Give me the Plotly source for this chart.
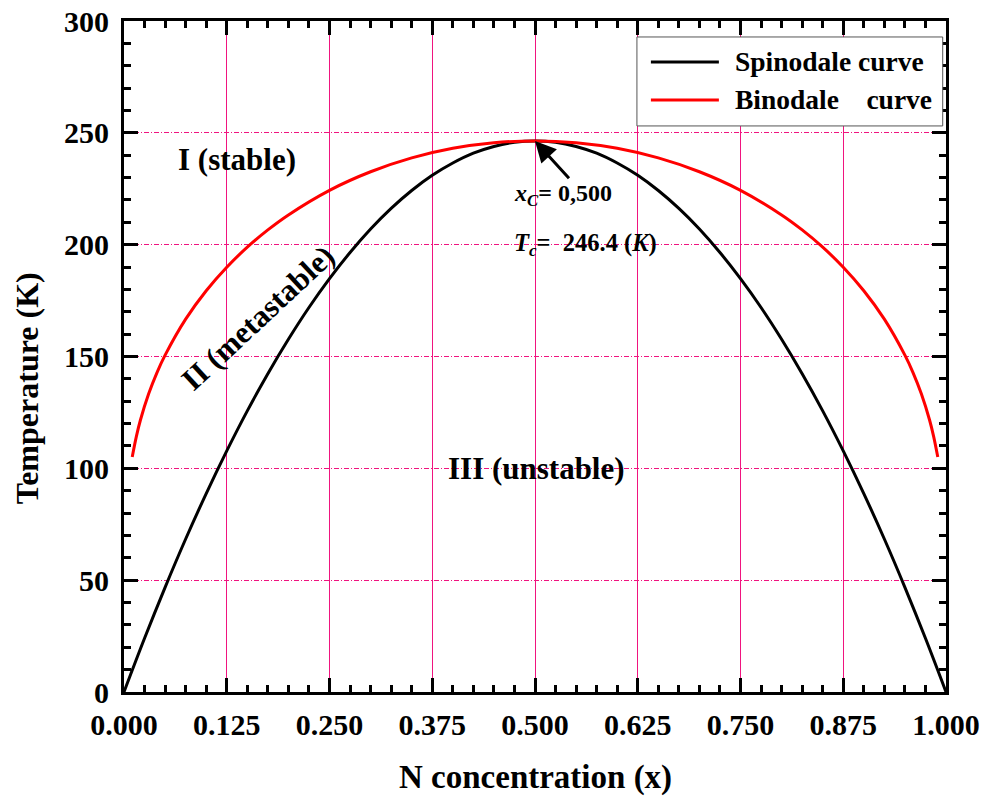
import plotly.graph_objects as go

# Spinodal curve: composition x and temperature (K)
spin_x = [0.000, 0.025, 0.050, 0.075, 0.100, 0.125, 0.150, 0.175, 0.200, 0.225,
          0.250, 0.275, 0.300, 0.325, 0.350, 0.375, 0.400, 0.425, 0.450, 0.475,
          0.500, 0.525, 0.550, 0.575, 0.600, 0.625, 0.650, 0.675, 0.700, 0.725,
          0.750, 0.775, 0.800, 0.825, 0.850, 0.875, 0.900, 0.925, 0.950, 0.975, 1.000]
spin_t = [0.0, 24.0, 46.8, 68.4, 88.7, 107.8, 125.7, 142.3, 157.7, 171.9,
          184.8, 196.5, 207.0, 216.2, 224.2, 231.0, 236.5, 240.9, 243.9, 245.8,
          246.4, 245.8, 243.9, 240.9, 236.5, 231.0, 224.2, 216.2, 207.0, 196.5,
          184.8, 171.9, 157.7, 142.3, 125.7, 107.8, 88.7, 68.4, 46.8, 24.0, 0.0]

# Binodal curve: composition x and temperature (K)
bino_x = [0.010, 0.015, 0.020, 0.030, 0.040, 0.050, 0.075, 0.100, 0.125, 0.150,
          0.175, 0.200, 0.250, 0.300, 0.350, 0.400, 0.450, 0.500, 0.550, 0.600,
          0.650, 0.700, 0.750, 0.800, 0.825, 0.850, 0.875, 0.900, 0.925, 0.950,
          0.960, 0.970, 0.980, 0.985, 0.990]
bino_t = [105.1, 114.2, 121.6, 133.3, 142.7, 150.6, 166.7, 179.4, 189.9, 198.9,
          206.6, 213.3, 224.3, 232.6, 238.8, 243.1, 245.6, 246.4, 245.6, 243.1,
          238.8, 232.6, 224.3, 213.3, 206.6, 198.9, 189.9, 179.4, 166.7, 150.6,
          142.7, 133.3, 121.6, 114.2, 105.1]

# Critical point
x_c = 0.500
t_c = 246.4

x_ticks = [0.000, 0.125, 0.250, 0.375, 0.500, 0.625, 0.750, 0.875, 1.000]
y_ticks = [0, 50, 100, 150, 200, 250, 300]

series_names = ["Spinodale curve", "Binodale\u00a0\u00a0\u00a0\u00a0curve"]
series_colors = ["#000000", "#ff0000"]

FONT = "Liberation Serif, Times New Roman, serif"
GRID = "#f0147f"


def bold(size):
    return dict(family=FONT, size=size, color="black", weight="bold")


fig = go.Figure()
fig.add_trace(go.Scatter(x=spin_x, y=spin_t, mode="lines", name=series_names[0],
                         line=dict(color=series_colors[0], width=3, shape="spline"),
                         showlegend=False))
fig.add_trace(go.Scatter(x=bino_x, y=bino_t, mode="lines", name=series_names[1],
                         line=dict(color=series_colors[1], width=3, shape="spline"),
                         showlegend=False))

# Legend box drawn by hand so the line samples are long
lg_x0, lg_x1, lg_y0, lg_y1 = 0.624, 0.996, 0.8436, 0.9762
fig.add_shape(type="rect", xref="paper", yref="paper", x0=lg_x0, x1=lg_x1, y0=lg_y0, y1=lg_y1,
              line=dict(color="#555555", width=1), fillcolor="white", layer="above")
for i, (nm, col) in enumerate(zip(series_names, series_colors)):
    yy = 0.9389 - i * 0.0566
    fig.add_shape(type="line", xref="paper", yref="paper", x0=0.641, x1=0.7237, y0=yy, y1=yy,
                  line=dict(color=col, width=3), layer="above")
    fig.add_annotation(xref="paper", yref="paper", x=0.7405, y=yy, text=nm, showarrow=False,
                       xanchor="left", yanchor="middle", font=bold(27.5))

# Region labels
fig.add_annotation(x=0.138, y=238, text="I (stable)", showarrow=False, font=bold(31))
fig.add_annotation(x=0.163, y=167.5, text="II (metastable)", showarrow=False, textangle=-43,
                   font=bold(31))
fig.add_annotation(x=0.502, y=100, text="III (unstable)", showarrow=False, font=bold(31))

# Critical point arrow and values
fig.add_annotation(x=x_c, y=t_c, ax=0.543, ay=229, axref="x", ayref="y", text="",
                   showarrow=True, arrowhead=2, arrowsize=1.4, arrowwidth=3, arrowcolor="black")
fig.add_annotation(x=0.4725, y=222.3, xanchor="left", yanchor="middle", showarrow=False,
                   text="<i>x</i><sub><i>C</i></sub>= 0,500", font=bold(24))
fig.add_annotation(x=0.4725, y=200.2, xanchor="left", yanchor="middle", showarrow=False,
                   text="<i>T</i><sub><i>c</i></sub>=\u00a0 246.4 (<i>K</i>)", font=bold(24.5))

# Axis titles
fig.add_annotation(xref="paper", yref="paper", x=0.5003, y=-0.128, text="N concentration (x)",
                   showarrow=False, xanchor="center", yanchor="middle", font=bold(33))
fig.add_annotation(xref="paper", yref="paper", x=-0.118, y=0.4527, text="Temperature (K)",
                   showarrow=False, textangle=-90, xanchor="center", yanchor="middle",
                   font=bold(32))

axis_common = dict(
    showline=True, linecolor="black", linewidth=3, mirror="allticks",
    ticks="inside", ticklen=14, tickwidth=3, tickcolor="black",
    showgrid=True, gridcolor=GRID, gridwidth=1, zeroline=False,
    tickfont=bold(30), automargin=False,
)

fig.update_xaxes(**axis_common, range=[0, 1], tickvals=x_ticks,
                 ticktext=[f"{v:.3f}" for v in x_ticks], ticklabelstandoff=4,
                 minor=dict(dtick=0.025, ticks="inside", ticklen=7, tickwidth=3,
                            tickcolor="black", showgrid=False))
fig.update_yaxes(**axis_common, range=[0, 300], tickvals=y_ticks, griddash="5px,2px,1px,2px",
                 ticklabelstandoff=6,
                 minor=dict(dtick=10, ticks="inside", ticklen=7, tickwidth=3,
                            tickcolor="black", showgrid=False))

fig.update_layout(
    width=984, height=798,
    margin=dict(l=124, r=38, t=21, b=106),
    plot_bgcolor="white", paper_bgcolor="white",
    font=dict(family=FONT, color="black"),
    showlegend=False,
)

fig.write_html("out.html")
